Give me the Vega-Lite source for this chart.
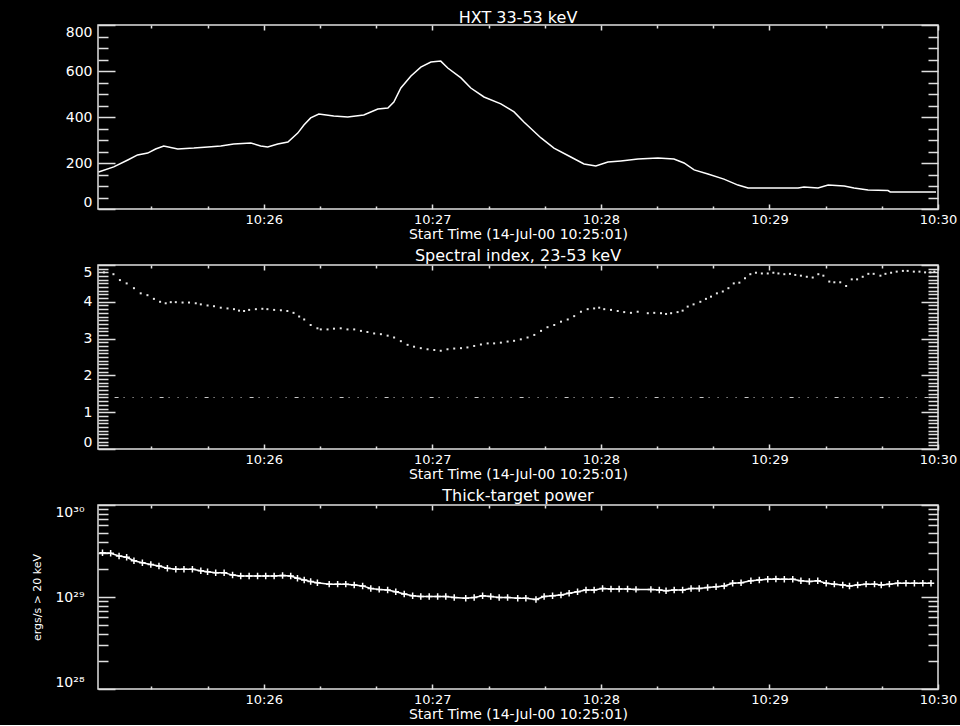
{
  "$schema": "https://vega.github.io/schema/vega-lite/v6.json",
  "background": "black",
  "padding": {"left": 30, "top": 9, "right": 3, "bottom": 3},
  "spacing": 56,
  "bounds": "flush",
  "config": {
    "font": "DejaVu Sans",
    "view": {"stroke": "#e0e0e0", "strokeWidth": 1.5},
    "axis": {
      "grid": false,
      "domain": false,
      "labelColor": "white",
      "labelFont": "DejaVu Sans",
      "labelFontSize": 14,
      "labelOverlap": false,
      "tickColor": "#e0e0e0",
      "tickWidth": 1.5,
      "titleColor": "white",
      "titleFont": "DejaVu Sans",
      "titleFontWeight": "normal",
      "titleFontSize": 14
    },
    "axisBottom": {"labelFontSize": 13, "titleBaseline": "alphabetic", "titleY": 29, "titleX": 420, "titleAlign": "center"},
    "title": {"color": "white", "font": "DejaVu Sans", "fontSize": 16, "fontWeight": "normal", "baseline": "alphabetic", "offset": -2}
  },
  "datasets": {
    "hxt": [
      {"t": 1.2, "counts": 161}, {"t": 6.6, "counts": 183}, {"t": 11.6, "counts": 213}, {"t": 15.1, "counts": 235},
      {"t": 18.7, "counts": 243}, {"t": 21.5, "counts": 261}, {"t": 24.4, "counts": 274}, {"t": 29.4, "counts": 261},
      {"t": 35.1, "counts": 265}, {"t": 40.1, "counts": 270}, {"t": 44.7, "counts": 274}, {"t": 49.3, "counts": 283},
      {"t": 55.4, "counts": 287}, {"t": 58.9, "counts": 274}, {"t": 61.4, "counts": 270}, {"t": 65.0, "counts": 283},
      {"t": 68.6, "counts": 291}, {"t": 72.1, "counts": 330}, {"t": 74.3, "counts": 365}, {"t": 76.7, "counts": 396},
      {"t": 79.6, "counts": 413}, {"t": 84.9, "counts": 404}, {"t": 89.9, "counts": 400}, {"t": 95.6, "counts": 409},
      {"t": 100.6, "counts": 435}, {"t": 104.2, "counts": 439}, {"t": 106.3, "counts": 465}, {"t": 108.8, "counts": 526},
      {"t": 112.4, "counts": 578}, {"t": 115.9, "counts": 617}, {"t": 119.5, "counts": 639}, {"t": 123.0, "counts": 643},
      {"t": 125.5, "counts": 613}, {"t": 130.2, "counts": 570}, {"t": 133.7, "counts": 526}, {"t": 138.4, "counts": 487},
      {"t": 144.4, "counts": 457}, {"t": 149.1, "counts": 422}, {"t": 152.6, "counts": 378}, {"t": 158.7, "counts": 309},
      {"t": 163.3, "counts": 265}, {"t": 169.3, "counts": 226}, {"t": 174.0, "counts": 196}, {"t": 178.2, "counts": 187},
      {"t": 182.5, "counts": 204}, {"t": 187.1, "counts": 209}, {"t": 193.2, "counts": 217}, {"t": 200.3, "counts": 222},
      {"t": 206.0, "counts": 217}, {"t": 209.6, "counts": 200}, {"t": 213.2, "counts": 170}, {"t": 218.1, "counts": 152},
      {"t": 223.8, "counts": 130}, {"t": 228.8, "counts": 104}, {"t": 232.4, "counts": 91}, {"t": 241.6, "counts": 91},
      {"t": 250.2, "counts": 91}, {"t": 252.3, "counts": 96}, {"t": 257.3, "counts": 91}, {"t": 260.9, "counts": 104},
      {"t": 266.6, "counts": 100}, {"t": 270.1, "counts": 91}, {"t": 275.1, "counts": 83}, {"t": 282.2, "counts": 80},
      {"t": 283.0, "counts": 74}, {"t": 299.3, "counts": 74}
    ],
    "index": [
      {"t": 3.1, "g": 4.80}, {"t": 6.5, "g": 4.75}, {"t": 8.8, "g": 4.59}, {"t": 11.2, "g": 4.50},
      {"t": 13.8, "g": 4.37}, {"t": 16.2, "g": 4.23}, {"t": 18.6, "g": 4.18}, {"t": 20.9, "g": 4.08},
      {"t": 23.1, "g": 4.00}, {"t": 25.1, "g": 3.96}, {"t": 26.9, "g": 3.99}, {"t": 28.7, "g": 3.99},
      {"t": 31.1, "g": 3.98}, {"t": 33.4, "g": 3.98}, {"t": 35.8, "g": 3.96}, {"t": 37.6, "g": 3.93},
      {"t": 40.0, "g": 3.90}, {"t": 42.3, "g": 3.88}, {"t": 44.7, "g": 3.84}, {"t": 47.1, "g": 3.82},
      {"t": 49.4, "g": 3.80}, {"t": 51.2, "g": 3.76}, {"t": 53.0, "g": 3.75}, {"t": 54.8, "g": 3.78},
      {"t": 57.2, "g": 3.80}, {"t": 59.5, "g": 3.81}, {"t": 61.3, "g": 3.80}, {"t": 63.7, "g": 3.78},
      {"t": 66.1, "g": 3.77}, {"t": 68.4, "g": 3.75}, {"t": 70.6, "g": 3.70}, {"t": 72.6, "g": 3.60},
      {"t": 74.4, "g": 3.52}, {"t": 76.7, "g": 3.37}, {"t": 79.1, "g": 3.28}, {"t": 80.3, "g": 3.25},
      {"t": 82.7, "g": 3.25}, {"t": 85.0, "g": 3.27}, {"t": 87.4, "g": 3.28}, {"t": 89.8, "g": 3.25},
      {"t": 92.2, "g": 3.25}, {"t": 94.6, "g": 3.21}, {"t": 96.9, "g": 3.18}, {"t": 99.3, "g": 3.14},
      {"t": 101.7, "g": 3.12}, {"t": 104.1, "g": 3.08}, {"t": 106.4, "g": 3.03}, {"t": 108.8, "g": 2.93},
      {"t": 111.2, "g": 2.83}, {"t": 113.5, "g": 2.78}, {"t": 115.9, "g": 2.74}, {"t": 118.3, "g": 2.71},
      {"t": 120.7, "g": 2.69}, {"t": 123.0, "g": 2.67}, {"t": 125.4, "g": 2.71}, {"t": 127.8, "g": 2.73},
      {"t": 130.2, "g": 2.74}, {"t": 132.5, "g": 2.76}, {"t": 134.9, "g": 2.80}, {"t": 137.3, "g": 2.84},
      {"t": 139.7, "g": 2.87}, {"t": 142.0, "g": 2.87}, {"t": 144.4, "g": 2.89}, {"t": 146.8, "g": 2.92},
      {"t": 149.1, "g": 2.94}, {"t": 151.5, "g": 2.98}, {"t": 153.9, "g": 3.03}, {"t": 156.3, "g": 3.10},
      {"t": 158.7, "g": 3.21}, {"t": 161.0, "g": 3.31}, {"t": 163.4, "g": 3.37}, {"t": 165.8, "g": 3.46},
      {"t": 168.2, "g": 3.52}, {"t": 170.5, "g": 3.61}, {"t": 172.9, "g": 3.73}, {"t": 175.3, "g": 3.80},
      {"t": 177.6, "g": 3.82}, {"t": 179.4, "g": 3.84}, {"t": 181.2, "g": 3.80}, {"t": 183.6, "g": 3.78},
      {"t": 186.0, "g": 3.75}, {"t": 188.3, "g": 3.72}, {"t": 190.7, "g": 3.70}, {"t": 193.1, "g": 3.73},
      {"t": 196.7, "g": 3.69}, {"t": 199.0, "g": 3.70}, {"t": 201.4, "g": 3.69}, {"t": 203.2, "g": 3.67},
      {"t": 205.0, "g": 3.69}, {"t": 207.3, "g": 3.72}, {"t": 209.1, "g": 3.76}, {"t": 210.9, "g": 3.87},
      {"t": 213.0, "g": 3.93}, {"t": 215.4, "g": 4.00}, {"t": 217.4, "g": 4.08}, {"t": 219.2, "g": 4.14},
      {"t": 221.3, "g": 4.23}, {"t": 223.4, "g": 4.28}, {"t": 225.4, "g": 4.37}, {"t": 227.3, "g": 4.50},
      {"t": 229.3, "g": 4.52}, {"t": 231.3, "g": 4.64}, {"t": 233.2, "g": 4.75}, {"t": 235.2, "g": 4.79},
      {"t": 237.3, "g": 4.77}, {"t": 239.4, "g": 4.77}, {"t": 241.4, "g": 4.79}, {"t": 243.2, "g": 4.77},
      {"t": 245.3, "g": 4.75}, {"t": 247.3, "g": 4.76}, {"t": 249.2, "g": 4.73}, {"t": 251.2, "g": 4.71},
      {"t": 253.3, "g": 4.68}, {"t": 255.4, "g": 4.66}, {"t": 257.4, "g": 4.75}, {"t": 259.2, "g": 4.71},
      {"t": 261.3, "g": 4.55}, {"t": 263.1, "g": 4.53}, {"t": 265.2, "g": 4.53}, {"t": 267.3, "g": 4.43},
      {"t": 269.3, "g": 4.61}, {"t": 271.2, "g": 4.61}, {"t": 273.2, "g": 4.68}, {"t": 275.2, "g": 4.76},
      {"t": 277.1, "g": 4.76}, {"t": 279.5, "g": 4.71}, {"t": 281.3, "g": 4.76}, {"t": 283.3, "g": 4.79},
      {"t": 285.3, "g": 4.82}, {"t": 287.5, "g": 4.84}, {"t": 289.2, "g": 4.84}, {"t": 291.4, "g": 4.82},
      {"t": 293.4, "g": 4.82}, {"t": 295.4, "g": 4.80}, {"t": 297.3, "g": 4.80}, {"t": 298.7, "g": 4.82}
    ],
    "reference": [
      {"t0": 6.9, "t1": 297.5, "g": 1.4}
    ],
    "power": [
      {"t": 2.6, "p": 3.03e29}, {"t": 5.5, "p": 2.99e29}, {"t": 8.5, "p": 2.79e29}, {"t": 11.2, "p": 2.70e29},
      {"t": 13.8, "p": 2.48e29}, {"t": 16.8, "p": 2.36e29}, {"t": 19.8, "p": 2.26e29}, {"t": 22.7, "p": 2.17e29},
      {"t": 25.7, "p": 2.05e29}, {"t": 28.7, "p": 2.00e29}, {"t": 31.6, "p": 2.00e29}, {"t": 34.6, "p": 2.00e29},
      {"t": 37.6, "p": 1.93e29}, {"t": 40.0, "p": 1.88e29}, {"t": 42.9, "p": 1.84e29}, {"t": 45.9, "p": 1.84e29},
      {"t": 48.9, "p": 1.73e29}, {"t": 51.8, "p": 1.69e29}, {"t": 54.8, "p": 1.69e29}, {"t": 57.8, "p": 1.69e29},
      {"t": 60.7, "p": 1.69e29}, {"t": 63.7, "p": 1.69e29}, {"t": 66.7, "p": 1.71e29}, {"t": 69.6, "p": 1.69e29},
      {"t": 72.0, "p": 1.60e29}, {"t": 74.4, "p": 1.53e29}, {"t": 76.7, "p": 1.47e29}, {"t": 79.1, "p": 1.43e29},
      {"t": 83.3, "p": 1.38e29}, {"t": 86.3, "p": 1.38e29}, {"t": 89.2, "p": 1.38e29}, {"t": 92.2, "p": 1.35e29},
      {"t": 95.2, "p": 1.32e29}, {"t": 98.1, "p": 1.24e29}, {"t": 101.1, "p": 1.21e29}, {"t": 104.1, "p": 1.19e29},
      {"t": 107.0, "p": 1.14e29}, {"t": 110.0, "p": 1.08e29}, {"t": 113.0, "p": 1.03e29}, {"t": 115.9, "p": 1.01e29},
      {"t": 118.9, "p": 1.01e29}, {"t": 121.9, "p": 1.01e29}, {"t": 124.8, "p": 1.01e29}, {"t": 127.8, "p": 9.9e28},
      {"t": 131.9, "p": 9.7e28}, {"t": 134.9, "p": 9.9e28}, {"t": 137.9, "p": 1.03e29}, {"t": 140.8, "p": 1.01e29},
      {"t": 143.8, "p": 9.9e28}, {"t": 146.8, "p": 9.9e28}, {"t": 150.4, "p": 9.7e28}, {"t": 153.3, "p": 9.7e28},
      {"t": 156.9, "p": 9.4e28}, {"t": 159.8, "p": 1.01e29}, {"t": 162.8, "p": 1.03e29}, {"t": 165.8, "p": 1.05e29},
      {"t": 168.7, "p": 1.10e29}, {"t": 171.7, "p": 1.14e29}, {"t": 174.7, "p": 1.19e29}, {"t": 177.6, "p": 1.19e29},
      {"t": 180.6, "p": 1.24e29}, {"t": 183.6, "p": 1.22e29}, {"t": 186.5, "p": 1.22e29}, {"t": 189.5, "p": 1.22e29},
      {"t": 192.5, "p": 1.21e29}, {"t": 197.8, "p": 1.21e29}, {"t": 200.8, "p": 1.19e29}, {"t": 203.2, "p": 1.17e29},
      {"t": 206.1, "p": 1.19e29}, {"t": 209.1, "p": 1.19e29}, {"t": 212.1, "p": 1.24e29}, {"t": 215.0, "p": 1.24e29},
      {"t": 218.0, "p": 1.27e29}, {"t": 221.0, "p": 1.29e29}, {"t": 223.9, "p": 1.32e29}, {"t": 226.9, "p": 1.41e29},
      {"t": 229.9, "p": 1.43e29}, {"t": 233.4, "p": 1.50e29}, {"t": 236.4, "p": 1.53e29}, {"t": 239.4, "p": 1.56e29},
      {"t": 242.3, "p": 1.57e29}, {"t": 245.3, "p": 1.56e29}, {"t": 248.3, "p": 1.56e29}, {"t": 251.2, "p": 1.50e29},
      {"t": 254.2, "p": 1.47e29}, {"t": 257.2, "p": 1.50e29}, {"t": 260.2, "p": 1.41e29}, {"t": 263.1, "p": 1.38e29},
      {"t": 266.1, "p": 1.35e29}, {"t": 268.5, "p": 1.32e29}, {"t": 271.4, "p": 1.35e29}, {"t": 274.4, "p": 1.38e29},
      {"t": 277.4, "p": 1.38e29}, {"t": 279.8, "p": 1.35e29}, {"t": 282.7, "p": 1.38e29}, {"t": 285.7, "p": 1.41e29},
      {"t": 288.6, "p": 1.41e29}, {"t": 291.6, "p": 1.41e29}, {"t": 294.6, "p": 1.41e29}, {"t": 297.5, "p": 1.41e29}
    ]
  },
  "vconcat": [
    {
      "width": 840,
      "height": 184,
      "title": "HXT 33-53 keV",
      "data": {"name": "hxt"},
      "layer": [
        {
          "mark": {"type": "line", "color": "white", "strokeWidth": 1.5},
          "encoding": {
            "x": {
              "field": "t", "type": "quantitative",
              "scale": {"domain": [1, 300], "nice": false, "zero": false},
              "axis": {
                "orient": "bottom",
                "values": [20, 40, 60, 80, 100, 120, 140, 160, 180, 200, 220, 240, 260, 280, 300],
                "labelExpr": "datum.value % 60 === 0 ? '10:' + (25 + datum.value / 60) : ''",
                "tickSize": {"condition": {"test": "datum.value % 60 === 0", "value": -5}, "value": -3},
                "labelPadding": 9,
                "labelFlush": false,
                "title": "Start Time (14-Jul-00 10:25:01)"
              }
            },
            "y": {
              "field": "counts", "type": "quantitative",
              "scale": {"domain": [0, 800], "nice": false},
              "axis": {
                "orient": "left",
                "values": [0, 50, 100, 150, 200, 250, 300, 350, 400, 450, 500, 550, 600, 650, 700, 750, 800],
                "labelExpr": "datum.value % 200 === 0 ? format(datum.value, 'd') : ''",
                "tickSize": {"condition": {"test": "datum.value % 200 === 0", "value": -17}, "value": -10},
                "labelPadding": 23,
                "labelFlush": true,
                "title": null
              }
            }
          }
        },
        {
          "mark": {"type": "line", "strokeOpacity": 0},
          "encoding": {
            "x": {
              "field": "t", "type": "quantitative",
              "axis": {
                "orient": "top",
                "values": [20, 40, 60, 80, 100, 120, 140, 160, 180, 200, 220, 240, 260, 280, 300],
                "labels": false,
                "tickSize": {"condition": {"test": "datum.value % 60 === 0", "value": -5}, "value": -3},
                "title": null
              }
            },
            "y": {
              "field": "counts", "type": "quantitative",
              "axis": {
                "orient": "right",
                "values": [0, 50, 100, 150, 200, 250, 300, 350, 400, 450, 500, 550, 600, 650, 700, 750, 800],
                "labels": false,
                "tickSize": {"condition": {"test": "datum.value % 200 === 0", "value": -17}, "value": -10},
                "title": null
              }
            }
          }
        }
      ],
      "resolve": {"axis": {"x": "independent", "y": "independent"}}
    },
    {
      "width": 840,
      "height": 184,
      "title": "Spectral index, 23-53 keV",
      "layer": [
        {
          "data": {"name": "index"},
          "mark": {"type": "point", "shape": "square", "filled": true, "size": 4, "color": "#e8e8e8", "opacity": 1},
          "encoding": {
            "x": {
              "field": "t", "type": "quantitative",
              "scale": {"domain": [1, 300], "nice": false, "zero": false},
              "axis": {
                "orient": "bottom",
                "values": [20, 40, 60, 80, 100, 120, 140, 160, 180, 200, 220, 240, 260, 280, 300],
                "labelExpr": "datum.value % 60 === 0 ? '10:' + (25 + datum.value / 60) : ''",
                "tickSize": {"condition": {"test": "datum.value % 60 === 0", "value": -5}, "value": -3},
                "labelPadding": 9,
                "labelFlush": false,
                "title": "Start Time (14-Jul-00 10:25:01)"
              }
            },
            "y": {
              "field": "g", "type": "quantitative",
              "scale": {"domain": [0, 5], "nice": false},
              "axis": {
                "orient": "left",
                "values": [0, 0.1, 0.2, 0.3, 0.4, 0.5, 0.6, 0.7, 0.8, 0.9, 1, 1.1, 1.2, 1.3, 1.4, 1.5, 1.6, 1.7, 1.8, 1.9, 2, 2.1, 2.2, 2.3, 2.4, 2.5, 2.6, 2.7, 2.8, 2.9, 3, 3.1, 3.2, 3.3, 3.4, 3.5, 3.6, 3.7, 3.8, 3.9, 4, 4.1, 4.2, 4.3, 4.4, 4.5, 4.6, 4.7, 4.8, 4.9, 5],
                "labelExpr": "abs(datum.value - round(datum.value)) < 0.001 ? format(datum.value, 'd') : ''",
                "tickSize": {"condition": {"test": "abs(datum.value - round(datum.value)) < 0.001", "value": -17}, "value": -10},
                "labelPadding": 23,
                "labelFlush": true,
                "title": null
              }
            }
          }
        },
        {
          "data": {"name": "reference"},
          "mark": {"type": "rule", "color": "#c8c8c8", "strokeWidth": 1.2, "strokeDash": [4, 5, 1, 8, 1, 8, 1, 8, 1, 8]},
          "encoding": {
            "x": {
              "field": "t0", "type": "quantitative",
              "axis": {
                "orient": "top",
                "values": [20, 40, 60, 80, 100, 120, 140, 160, 180, 200, 220, 240, 260, 280, 300],
                "labels": false,
                "tickSize": {"condition": {"test": "datum.value % 60 === 0", "value": -5}, "value": -3},
                "title": null
              }
            },
            "x2": {"field": "t1"},
            "y": {
              "field": "g", "type": "quantitative",
              "axis": {
                "orient": "right",
                "values": [0, 0.1, 0.2, 0.3, 0.4, 0.5, 0.6, 0.7, 0.8, 0.9, 1, 1.1, 1.2, 1.3, 1.4, 1.5, 1.6, 1.7, 1.8, 1.9, 2, 2.1, 2.2, 2.3, 2.4, 2.5, 2.6, 2.7, 2.8, 2.9, 3, 3.1, 3.2, 3.3, 3.4, 3.5, 3.6, 3.7, 3.8, 3.9, 4, 4.1, 4.2, 4.3, 4.4, 4.5, 4.6, 4.7, 4.8, 4.9, 5],
                "labels": false,
                "tickSize": {"condition": {"test": "abs(datum.value - round(datum.value)) < 0.001", "value": -17}, "value": -10},
                "title": null
              }
            }
          }
        }
      ],
      "resolve": {"axis": {"x": "independent", "y": "independent"}}
    },
    {
      "width": 840,
      "height": 184,
      "title": "Thick-target power",
      "data": {"name": "power"},
      "layer": [
        {
          "mark": {"type": "line", "color": "white", "strokeWidth": 1.5},
          "encoding": {
            "x": {
              "field": "t", "type": "quantitative",
              "scale": {"domain": [1, 300], "nice": false, "zero": false},
              "axis": {
                "orient": "bottom",
                "values": [20, 40, 60, 80, 100, 120, 140, 160, 180, 200, 220, 240, 260, 280, 300],
                "labelExpr": "datum.value % 60 === 0 ? '10:' + (25 + datum.value / 60) : ''",
                "tickSize": {"condition": {"test": "datum.value % 60 === 0", "value": -5}, "value": -3},
                "labelPadding": 9,
                "labelFlush": false,
                "title": "Start Time (14-Jul-00 10:25:01)"
              }
            },
            "y": {
              "field": "p", "type": "quantitative",
              "scale": {"type": "log", "domain": [1e28, 1e30], "nice": false},
              "axis": {
                "orient": "left",
                "values": [1e28, 2e28, 3e28, 4e28, 5e28, 6e28, 7e28, 8e28, 9e28, 1e29, 2e29, 3e29, 4e29, 5e29, 6e29, 7e29, 8e29, 9e29, 1e30],
                "labelExpr": "datum.value === 1e28 ? '10²⁸' : datum.value === 1e29 ? '10²⁹' : datum.value === 1e30 ? '10³⁰' : ''",
                "tickSize": {"condition": {"test": "datum.value === 1e28 || datum.value === 1e29 || datum.value === 1e30", "value": -17}, "value": -10},
                "labelPadding": 31,
                "labelFlush": true,
                "title": "ergs/s > 20 keV",
                "titleFontSize": 11,
                "titleX": -61,
                "titleY": 92,
                "titleAngle": 270,
                "titleAlign": "center",
                "titleBaseline": "middle"
              }
            }
          }
        },
        {
          "mark": {"type": "point", "shape": "M-1,0H1M0,-1V1", "filled": false, "size": 42, "stroke": "white", "strokeWidth": 1.5, "opacity": 1},
          "encoding": {
            "x": {
              "field": "t", "type": "quantitative",
              "axis": {
                "orient": "top",
                "values": [20, 40, 60, 80, 100, 120, 140, 160, 180, 200, 220, 240, 260, 280, 300],
                "labels": false,
                "tickSize": {"condition": {"test": "datum.value % 60 === 0", "value": -5}, "value": -3},
                "title": null
              }
            },
            "y": {
              "field": "p", "type": "quantitative",
              "axis": {
                "orient": "right",
                "values": [1e28, 2e28, 3e28, 4e28, 5e28, 6e28, 7e28, 8e28, 9e28, 1e29, 2e29, 3e29, 4e29, 5e29, 6e29, 7e29, 8e29, 9e29, 1e30],
                "labels": false,
                "tickSize": {"condition": {"test": "datum.value === 1e28 || datum.value === 1e29 || datum.value === 1e30", "value": -17}, "value": -10},
                "title": null
              }
            }
          }
        }
      ],
      "resolve": {"axis": {"x": "independent", "y": "independent"}}
    }
  ]
}
